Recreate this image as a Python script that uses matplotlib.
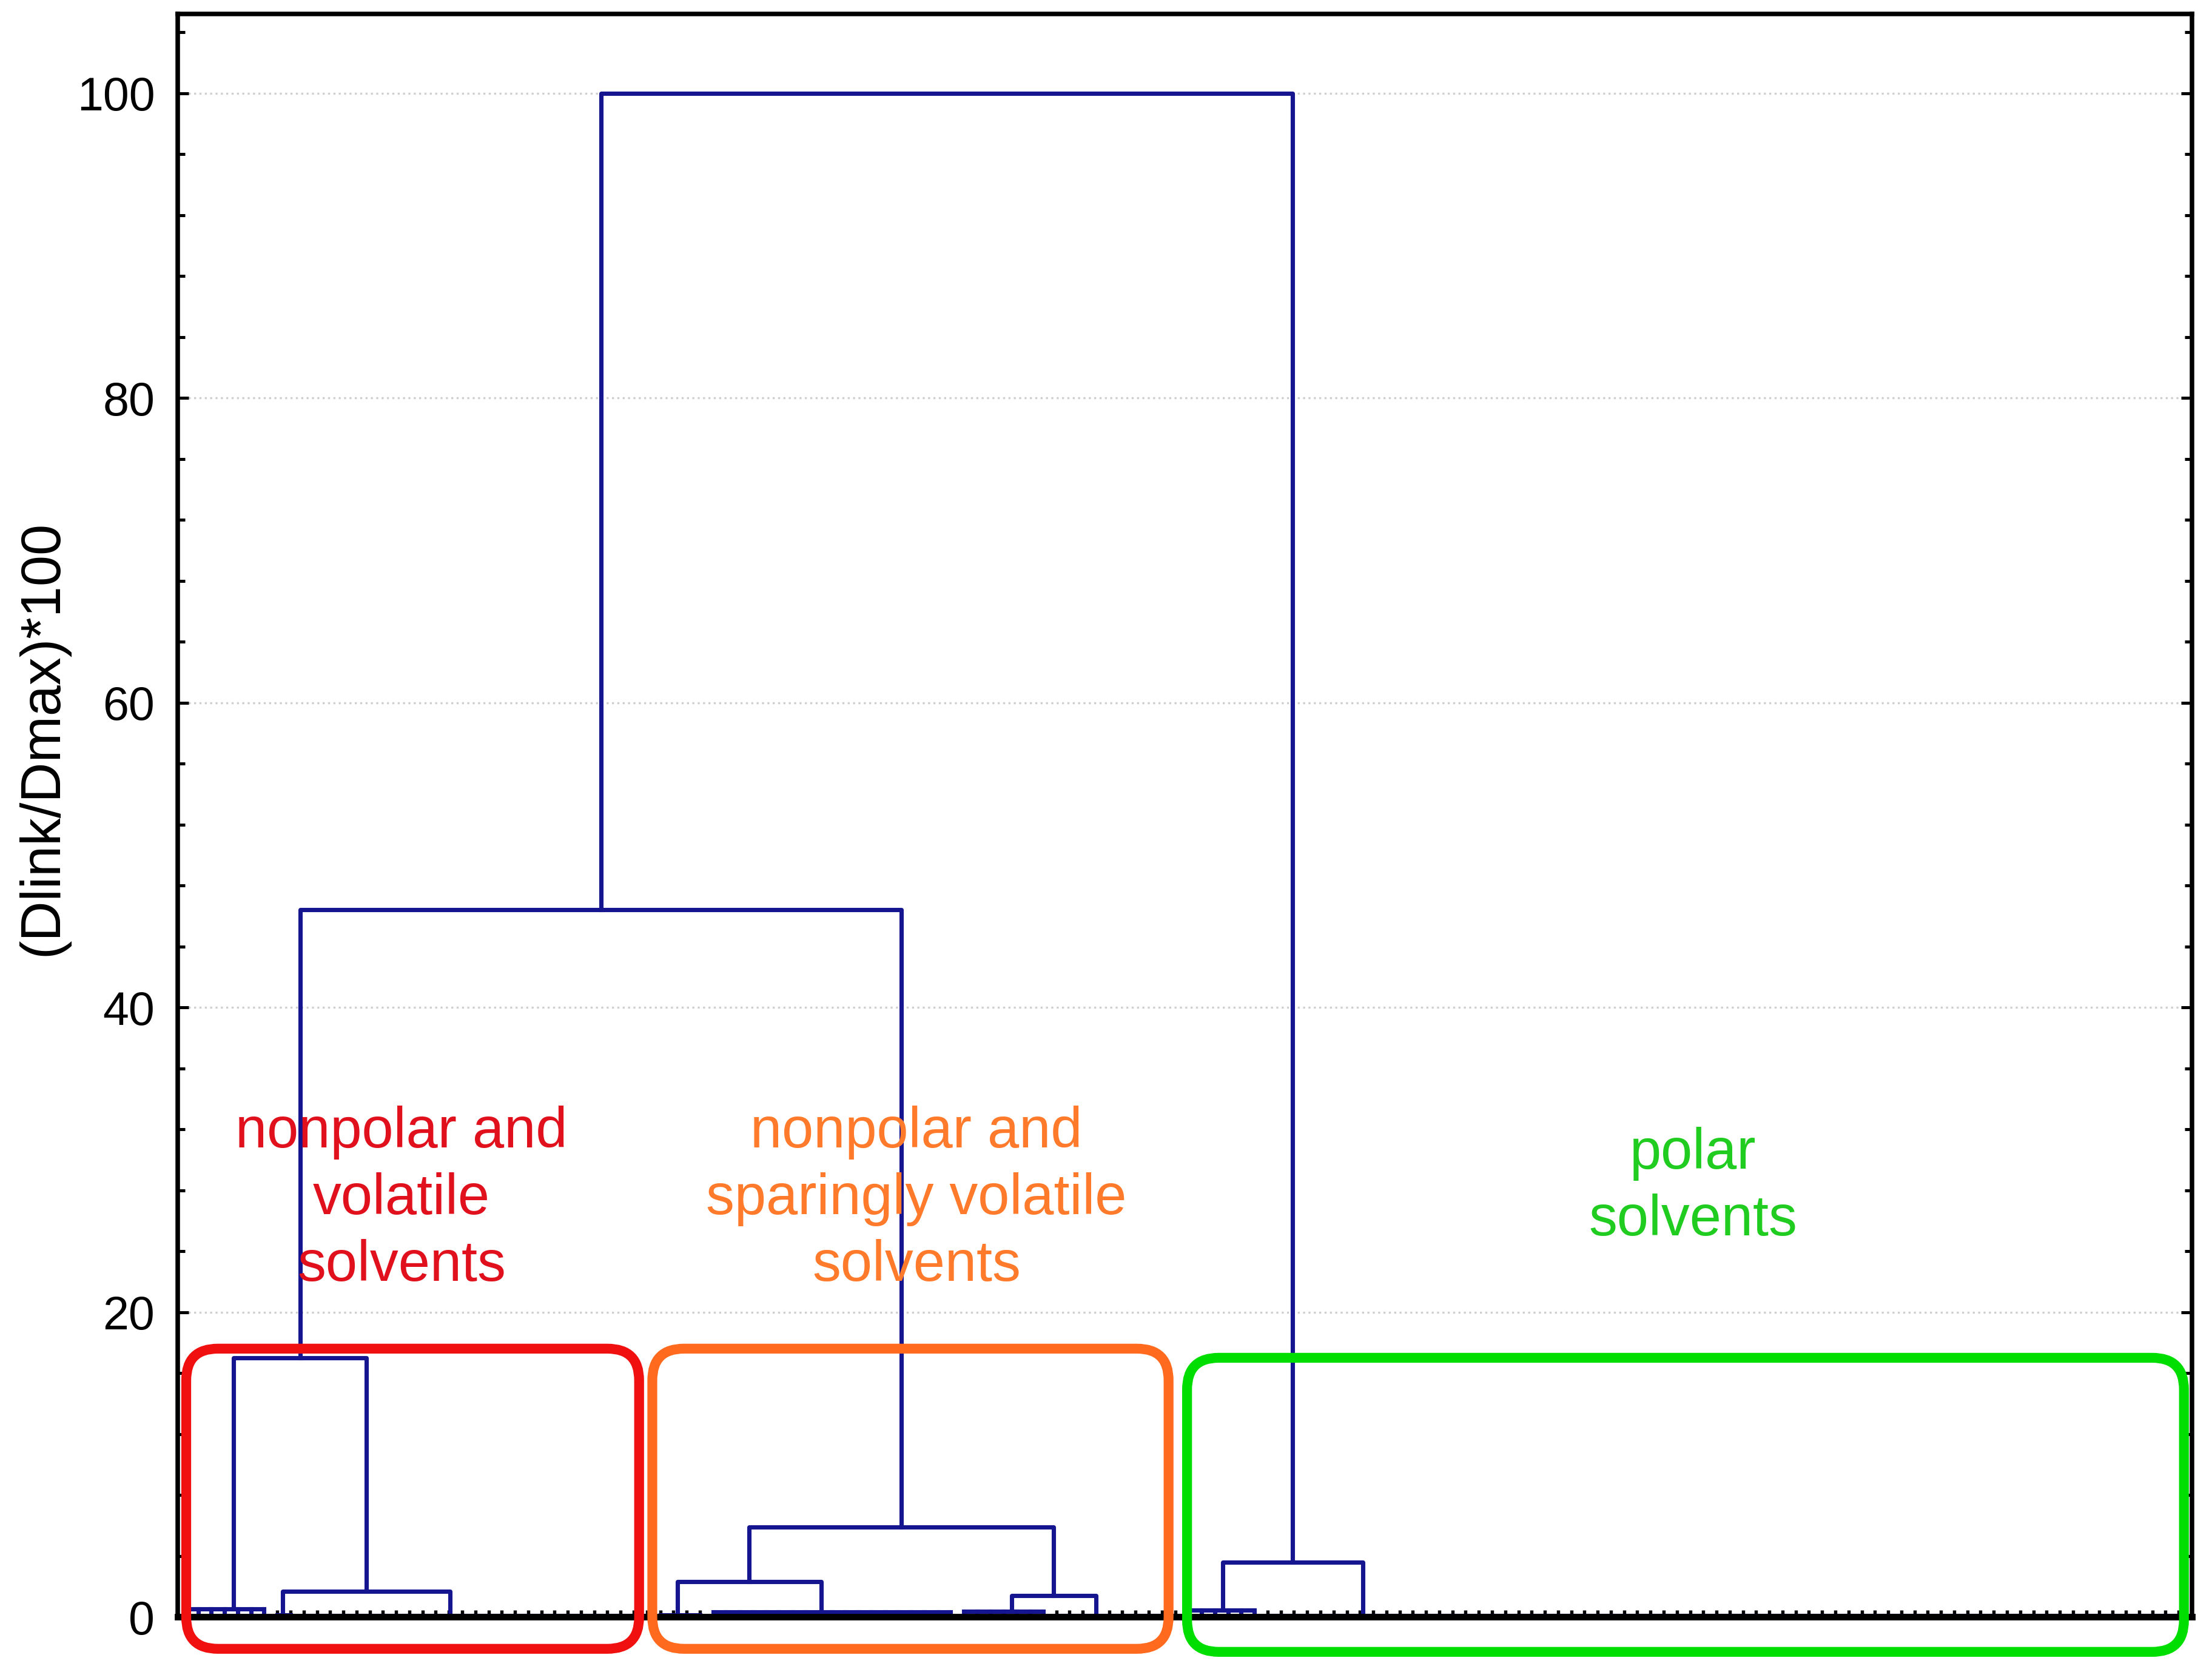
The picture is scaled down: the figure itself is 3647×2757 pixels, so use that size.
import matplotlib.pyplot as plt
from matplotlib.patches import FancyBboxPatch
from matplotlib.ticker import MultipleLocator

plt.rcParams['font.family'] = ['Liberation Sans', 'DejaVu Sans']

N_LEAVES = 152

# low-level clusters (leaves joined almost at zero distance)
base_first = [1, 8, 10, 37, 41, 60, 67, 77, 83]
base_last = [7, 9, 36, 40, 59, 66, 76, 82, 152]
base_height = [0.5, 0.12, 0.1, 0.12, 0.3, 0.35, 0.1, 0.45, 0.1]
base_stem = [4.7, 8.4, 21.1, 38.3, 49.2, 63.6, 70.0, 79.6, 90.2]

# merges, linkage style: ids 0-8 are base clusters, 9+ are earlier merges
merge_a = [1, 0, 3, 5, 11, 10, 7, 14]
merge_b = [2, 9, 4, 6, 12, 13, 8, 15]
merge_h = [1.66, 17.0, 2.3, 1.4, 5.9, 46.4, 3.6, 100.0]

group_text = ['nonpolar and\nvolatile\nsolvents',
              'nonpolar and\nsparingly volatile\nsolvents',
              'polar\nsolvents']
group_x = [17.4, 56.4, 115.2]
group_y = [27.4, 27.4, 28.2]
group_color = ['#e0101c', '#ff7a2a', '#1fcc1f']

box_x0 = [1.1, 36.4, 76.9]
box_x1 = [35.4, 75.5, 152.4]
box_y0 = [-2.1, -2.1, -2.3]
box_y1 = [17.6, 17.6, 17.0]
box_color = ['#f01010', '#ff6a1f', '#00dd00']

LINE = '#15158f'


def main():
    fig = plt.figure(figsize=(3647 / 300, 2757 / 300), dpi=300)
    ax = fig.add_axes([0.0803, 0.033, 0.9106, 0.9587])

    pos = list(base_stem)
    hgt = list(base_height)

    # base clusters: tiny comb near zero
    for lo, hi, h in zip(base_first, base_last, base_height):
        ax.plot([lo, hi], [h, h], color=LINE, lw=1.7, solid_capstyle='butt')
        for leaf in range(lo, hi + 1):
            ax.plot([leaf, leaf], [0, h], color=LINE, lw=1.7)

    for a, b, h in zip(merge_a, merge_b, merge_h):
        xa, xb = pos[a], pos[b]
        ax.plot([xa, xa, xb, xb], [hgt[a], h, h, hgt[b]], color=LINE, lw=1.7)
        pos.append((xa + xb) / 2)
        hgt.append(h)

    ax.set_xlim(0.45, 153.0)
    ax.set_ylim(0, 105.2)

    ax.set_xticks(range(1, N_LEAVES + 1))
    ax.set_xticklabels([])
    ax.tick_params(axis='x', direction='in', length=2.6, width=1.3, color='black')

    ax.set_yticks([0, 20, 40, 60, 80, 100])
    ax.yaxis.set_minor_locator(MultipleLocator(4))
    ax.tick_params(axis='y', which='both', direction='in', left=True, right=True,
                   width=1.2, labelsize=18.5, pad=9)
    ax.tick_params(axis='y', which='major', length=4.4)
    ax.tick_params(axis='y', which='minor', length=2.8)
    ax.yaxis.grid(True, linestyle=':', color='#cfcfcf', lw=0.8)
    ax.set_axisbelow(True)

    for s in ax.spines.values():
        s.set_linewidth(1.8)
    ax.spines['bottom'].set_linewidth(2.6)

    fig.text(0.0192, 0.5586, '(Dlink/Dmax)*100', rotation=90,
             ha='center', va='center', fontsize=22)

    for t, x, y, c in zip(group_text, group_x, group_y, group_color):
        ax.text(x, y, t, color=c, fontsize=22.5, ha='center', va='center',
                linespacing=1.3, zorder=4)

    # rounded group boxes, corrected for the axes aspect
    px_x = 0.9106 * 3647 / (153.0 - 0.45)
    px_y = 0.9587 * 2757 / 105.2
    asp = px_x / px_y
    for x0, x1, y0, y1, c in zip(box_x0, box_x1, box_y0, box_y1, box_color):
        box = FancyBboxPatch((x0, y0), x1 - x0, y1 - y0,
                             boxstyle='round,pad=0,rounding_size=2.4',
                             mutation_aspect=asp, fill=False, ec=c, lw=3.9,
                             clip_on=False, zorder=5)
        ax.add_patch(box)

    fig.savefig('out.png', dpi=300)


if __name__ == '__main__':
    main()
